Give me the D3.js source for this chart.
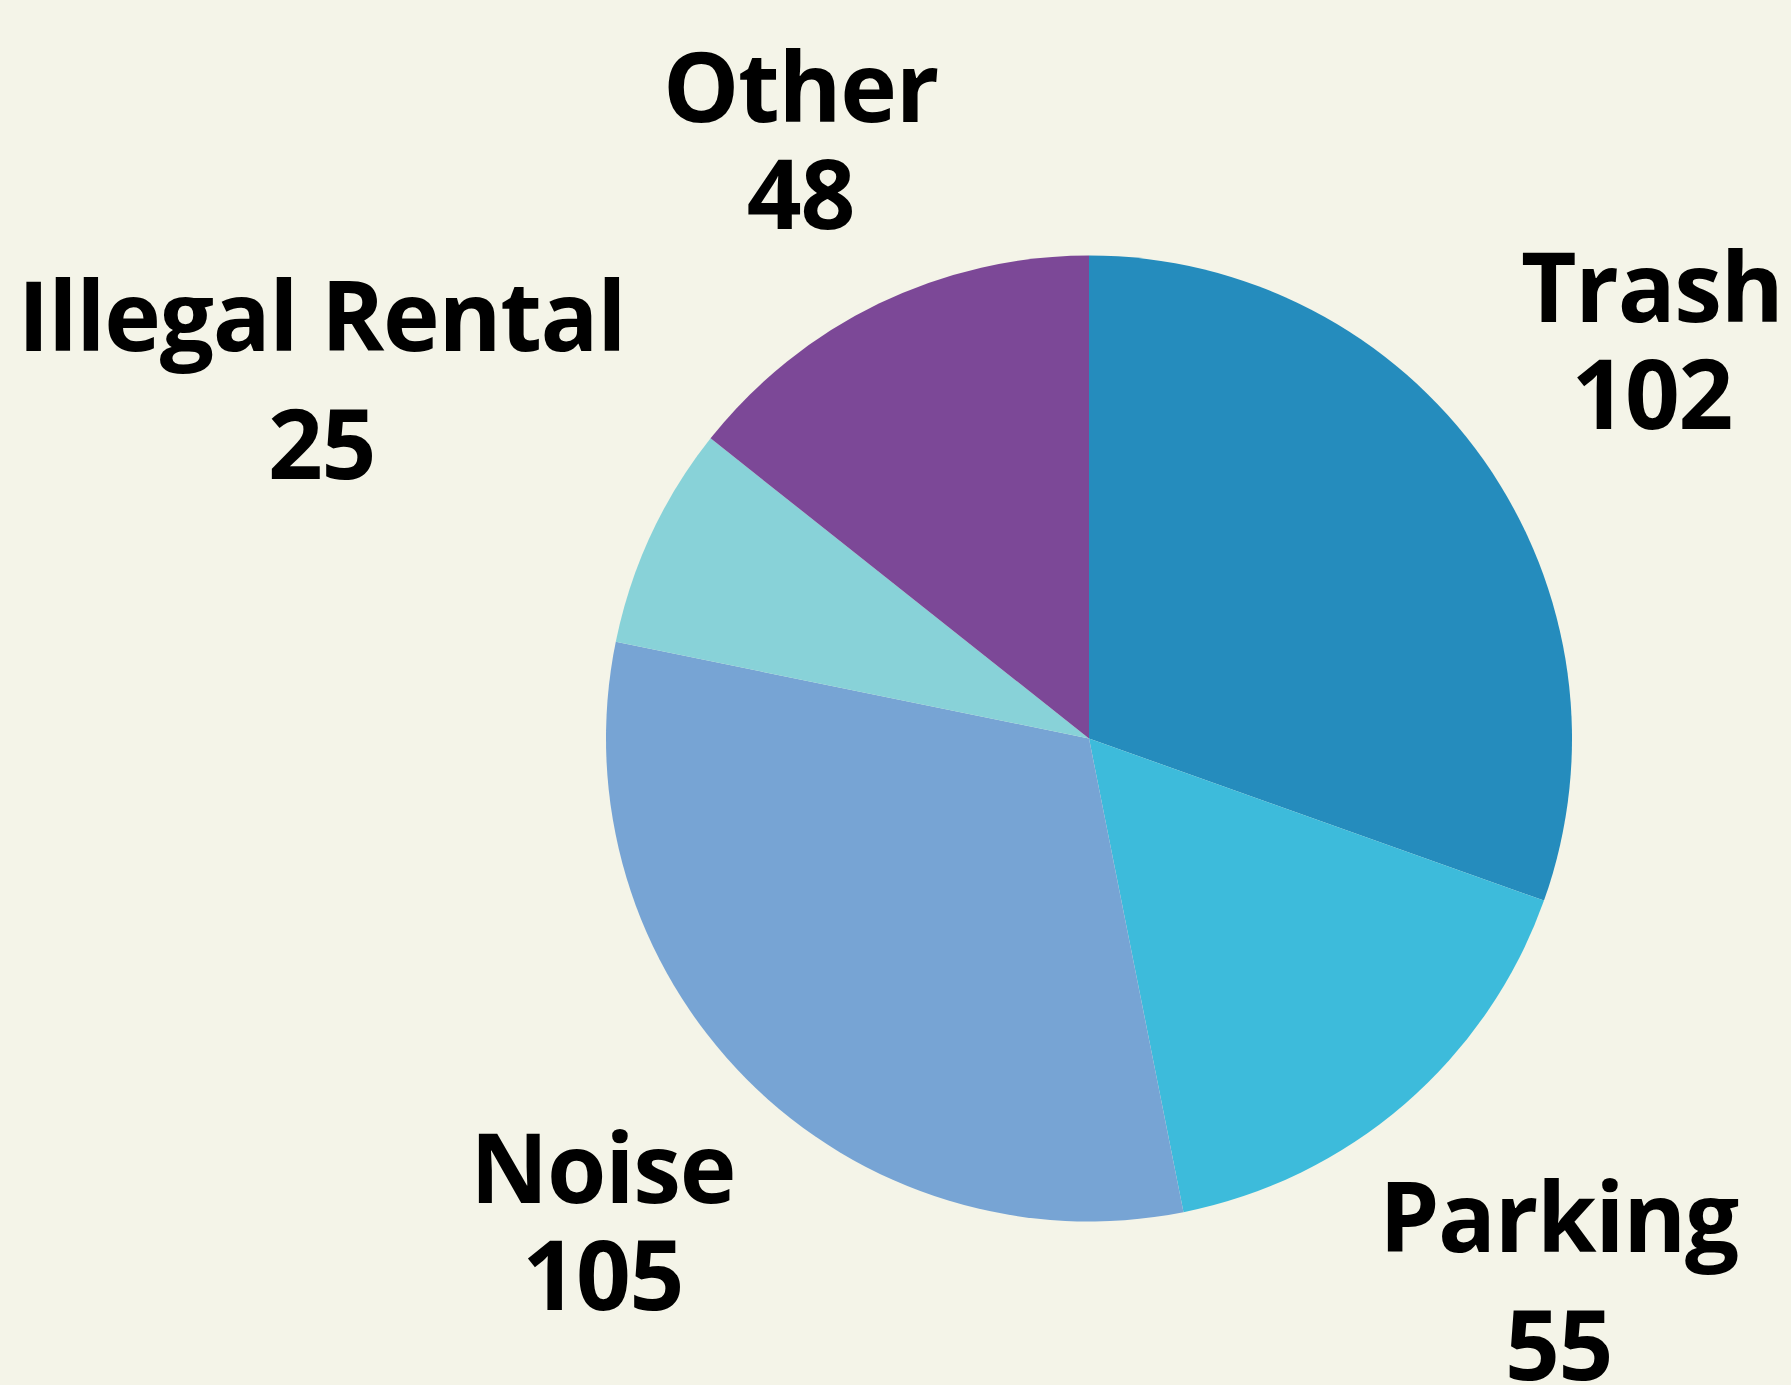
<!DOCTYPE html>
<html>
<head>
<meta charset="utf-8">
<script src="https://cdn.jsdelivr.net/npm/d3@7"></script>
<style>
  html, body { margin: 0; padding: 0; background: #f4f4e8; overflow: hidden; }
  svg { display: block; }
</style>
</head>
<body>
<div id="chart"></div>
<script>
// Complaints by type - pie chart

const categories = ["Trash", "Parking", "Noise", "Illegal Rental", "Other"];
const counts = [102, 55, 105, 25, 48];
const colors = ["#258cbd", "#3dbbdb", "#77a4d4", "#88d2d8", "#7c4897"];

const W = 1791, H = 1385;
const cx = 1089, cy = 738.5, radius = 483;
const fontSize = 96;
const capH = fontSize * 0.714;   // Open Sans cap height
const lineGap = 107;
const descExtra = 21;            // extra gap when first line has a descender
const labelDist = radius * 1.1;  // nearest edge of label box sits here

const data = categories.map((c, i) => ({ name: c, value: counts[i], color: colors[i] }));

const svg = d3.select("#chart").append("svg")
  .attr("width", W)
  .attr("height", H);

svg.append("rect").attr("width", W).attr("height", H).attr("fill", "#f4f4e8");

const g = svg.append("g").attr("transform", `translate(${cx},${cy})`);

const pie = d3.pie().sort(null).value(d => d.value);
const arc = d3.arc().innerRadius(0).outerRadius(radius);
const arcs = pie(data);

g.selectAll("path.slice")
  .data(arcs)
  .enter().append("path")
  .attr("class", "slice")
  .attr("d", arc)
  .attr("fill", d => d.data.color);

// Labels: box centre on the mid-angle ray, pushed out until its nearest point is at labelDist
const labels = g.selectAll("text.label")
  .data(arcs)
  .enter().append("text")
  .attr("class", "label")
  .attr("text-anchor", "middle")
  .style("font-family", "'Open Sans', sans-serif")
  .style("font-weight", "700")
  .style("font-size", fontSize + "px")
  .style("letter-spacing", "-1.3px")
  .style("fill", "#000");

labels.append("tspan").attr("class", "l1").text(d => d.data.name);
labels.append("tspan").attr("class", "l2").text(d => d.data.value);

function boxDist(x, y, hw, hh) {
  const dx = Math.max(Math.abs(x) - hw, 0);
  const dy = Math.max(Math.abs(y) - hh, 0);
  return Math.hypot(dx, dy);
}

labels.each(function (d) {
  const t = d3.select(this);
  const w1 = t.select(".l1").node().getComputedTextLength();
  const w2 = t.select(".l2").node().getComputedTextLength();
  const gap = lineGap + (/[gjpqy]/.test(d.data.name) ? descExtra : 0);
  const hw = Math.max(w1, w2) / 2;
  const hh = (capH + gap) / 2;
  const a = (d.startAngle + d.endAngle) / 2;
  const ux = Math.sin(a), uy = -Math.cos(a);
  let lo = 0, hi = 3000;
  for (let k = 0; k < 60; k++) {
    const m = (lo + hi) / 2;
    if (boxDist(m * ux, m * uy, hw, hh) < labelDist) lo = m; else hi = m;
  }
  const bx = lo * ux, by = lo * uy;
  const base1 = by - hh + capH;
  t.select(".l1").attr("x", bx).attr("y", base1);
  t.select(".l2").attr("x", bx).attr("y", base1 + gap);
});
</script>
</body>
</html>
